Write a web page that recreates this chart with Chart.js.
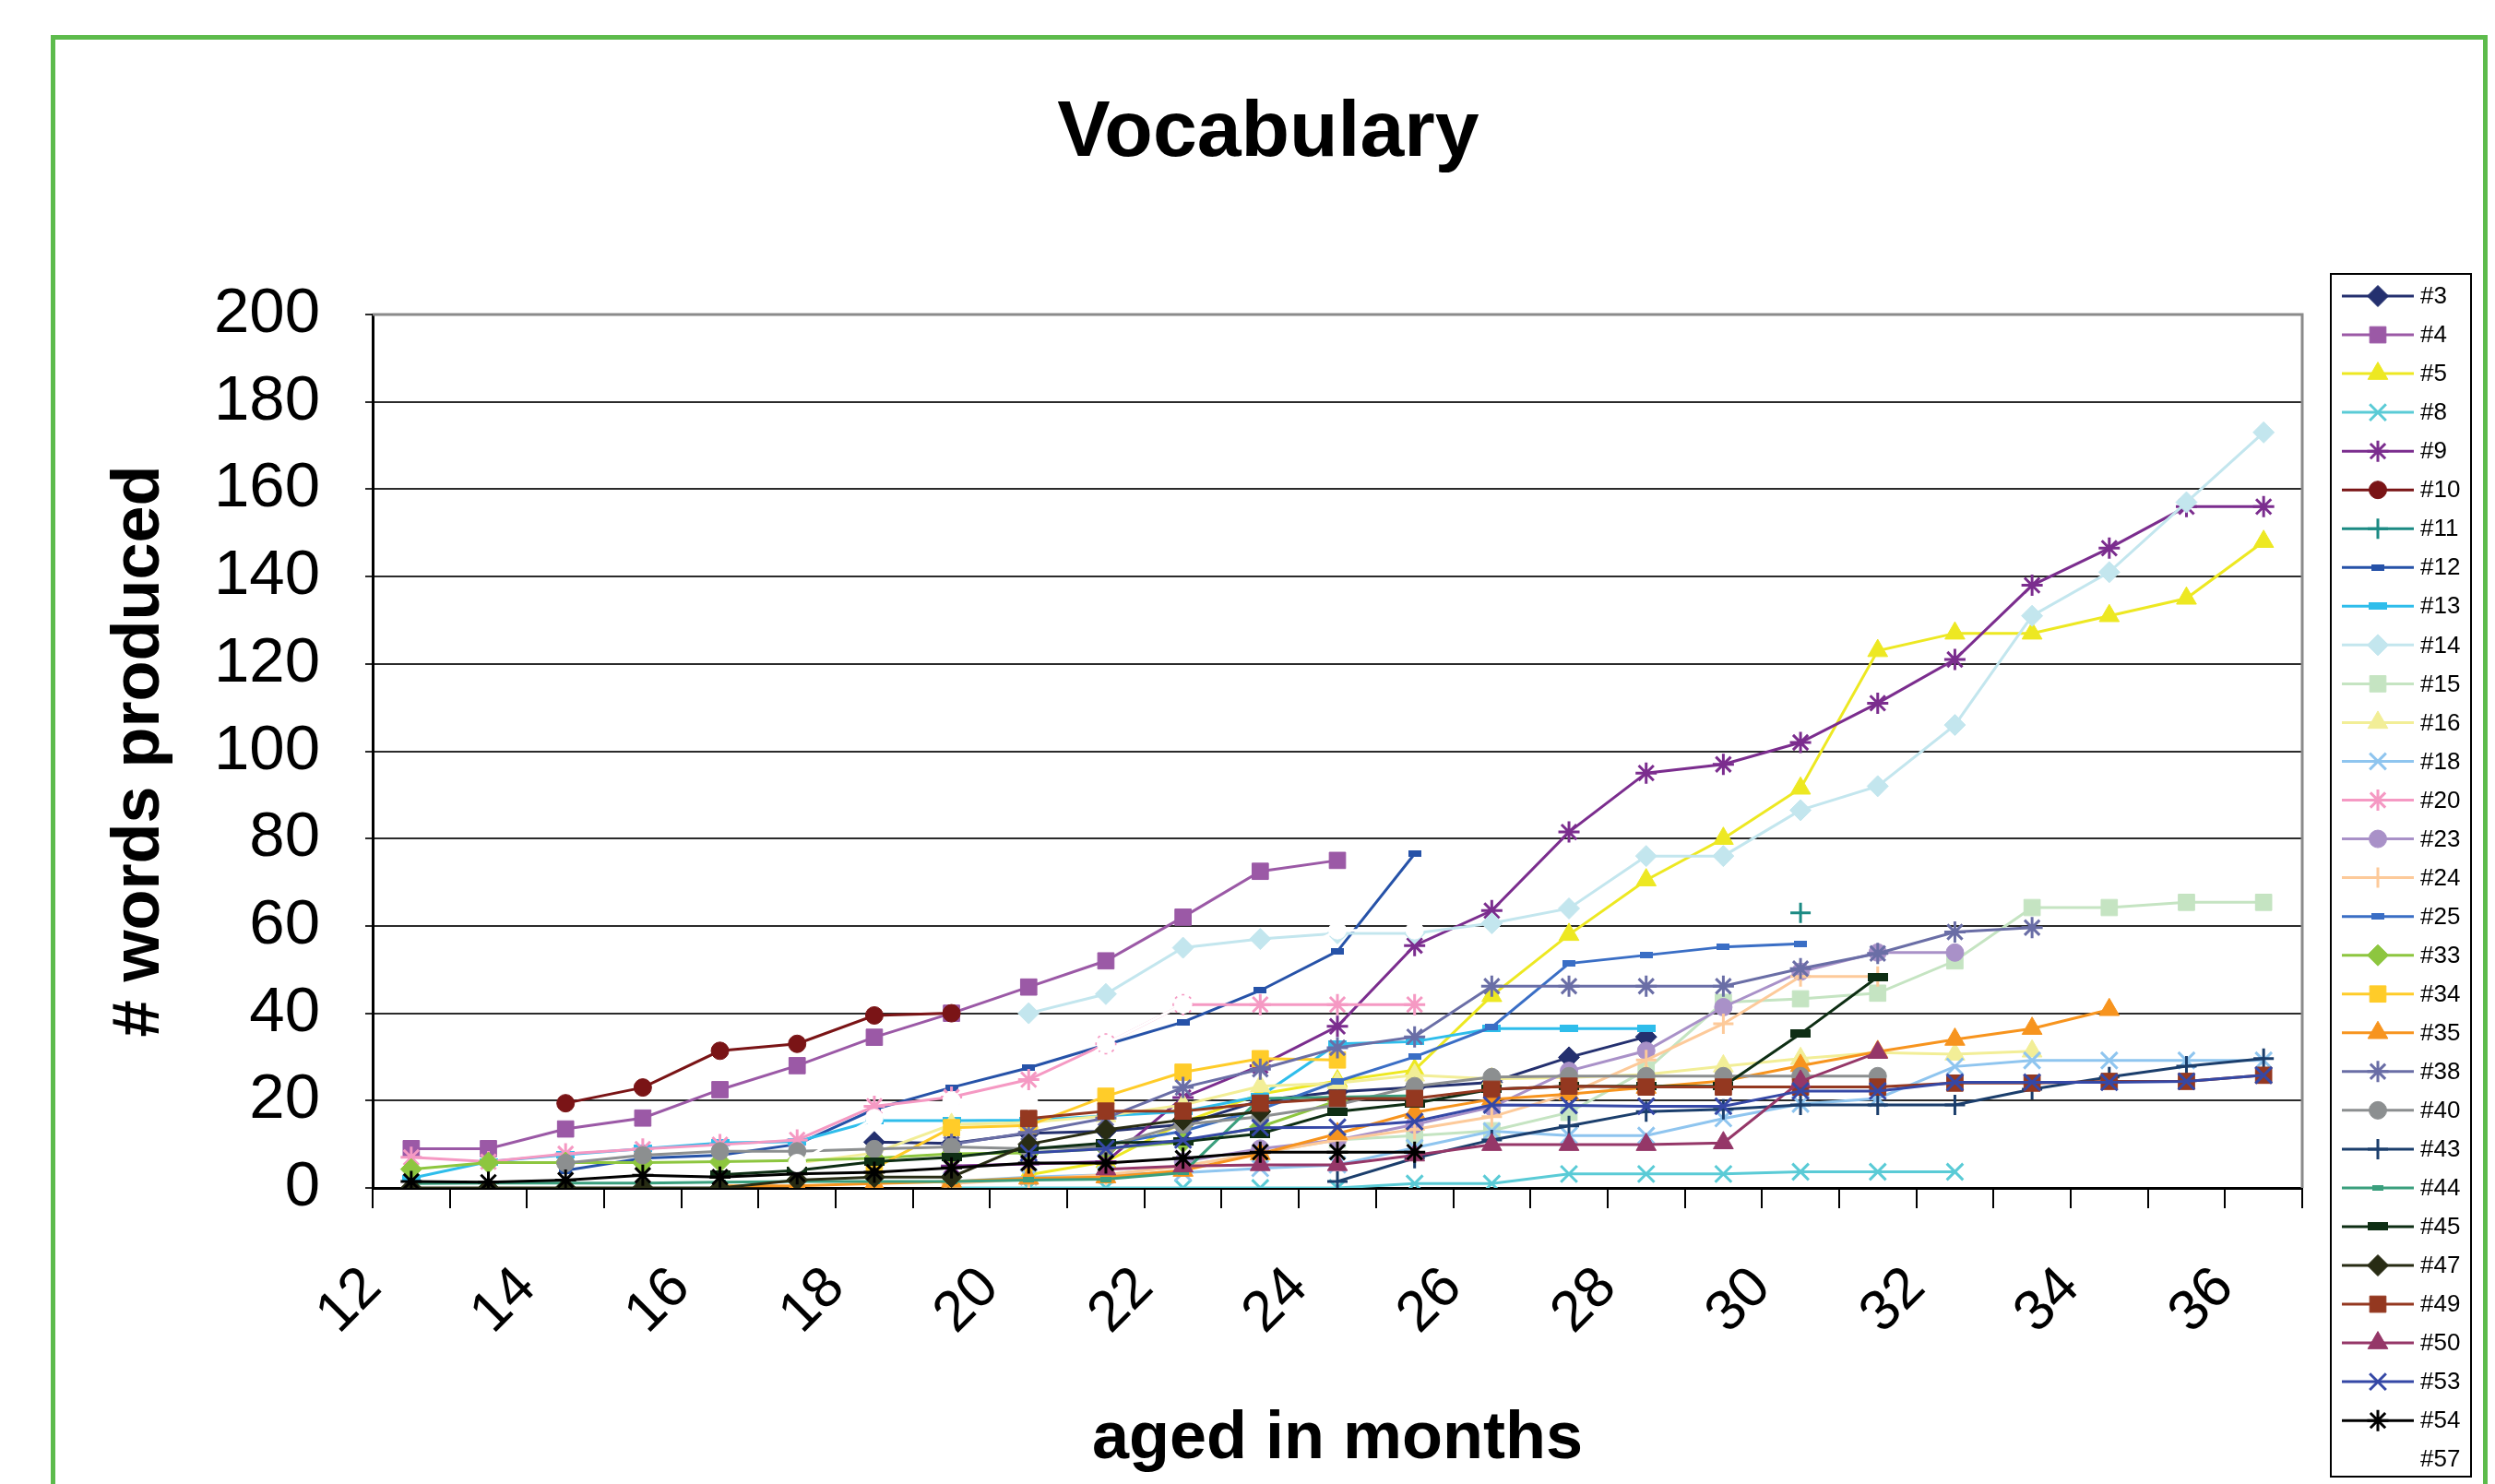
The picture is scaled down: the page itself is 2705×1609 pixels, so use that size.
<!DOCTYPE html>
<html>
<head>
<meta charset="utf-8">
<script src="https://cdn.jsdelivr.net/npm/chart.js@4.4.1/dist/chart.umd.min.js"></script>
<style>
html,body{margin:0;padding:0;background:#fff;}
#wrap{position:relative;width:2705px;height:1609px;overflow:hidden;}
canvas{display:block;}
#frame{position:absolute;left:55px;top:38px;width:2642px;height:1620px;border:5px solid #5DBB4C;box-sizing:border-box;pointer-events:none;}
</style>
</head>
<body>
<div id="wrap"><canvas id="c" width="2705" height="1609"></canvas><div id="frame"></div></div>
<script>
// ---------- DATA ----------
const chartTitle = 'Vocabulary';
const months = ['12','13','14','15','16','17','18','19','20','21','22','23','24','25','26','27','28','29','30','31','32','33','34','35','36'];
const seriesNames = ['#3','#4','#5','#8','#9','#10','#11','#12','#13','#14','#15','#16','#18','#20','#23','#24','#25','#33','#34','#35','#38','#40','#43','#44','#45','#47','#49','#50','#53','#54','#57'];
const _ = null;
const s3  = [_,_,_,_,_,_,10.5,10.2,12.5,13,14.5,20,22,23,24.2,29.9,34.6,_,_,_,_,_,_,_,_];
const s4  = [9,9,13.5,16,22.5,28,34.5,40,46,52,62,72.5,75,_,_,_,_,_,_,_,_,_,_,_,_];
const s5  = [_,_,_,_,_,_,_,_,3,6,15,21.5,24.5,27,44,58,70.5,80,91.5,123,127,127,131,135,148];
const s8  = [_,_,_,_,_,_,_,0,0,0,0,0,0,1,1,3.2,3.2,3.2,3.7,3.7,3.7,_,_,_,_];
const s9  = [_,_,_,_,_,_,_,5,5.5,6,20.7,28,37,55.5,63.5,81.5,95,97,102,111,121,138,146.5,156,156];
const s10 = [_,_,19.4,23,31.4,33,39.5,40,_,_,_,_,_,_,_,_,_,_,_,_,_,_,_,_,_];
const s11 = [_,_,_,_,_,_,_,_,_,_,_,_,_,_,_,_,_,_,63,_,_,_,_,_,_];
const s12 = [_,_,4,6.8,7.5,10,18,23,27.5,32.8,38,45.2,54.2,76.5,_,_,_,_,_,_,_,_,_,_,_];
const s13 = [2.2,6,7.6,9,10.3,10.6,15.4,15.4,15.5,16.5,17.5,21,33,33.5,36.5,36.5,36.5,_,_,_,_,_,_,_,_];
const s14 = [_,_,_,_,_,_,_,_,40,44.4,55,57,58.3,58.3,60.6,64,76,76,86.5,92,106,131,141,157,173];
const s15 = [_,_,_,_,_,_,_,_,_,3,5,8,11,12,13.1,17.3,27,42.5,43.3,44.6,52,64.2,64.2,65.4,65.4];
const s16 = [_,_,_,_,_,5.7,8,14.5,15,16.5,19,23.3,24,25.8,25,25.3,26,27.9,29.6,31,30.6,31.3,_,_,_];
const s18 = [_,_,_,_,_,_,_,1.5,2.5,3,3.5,4.5,5.3,9.2,13,12,12,15.9,19.2,20.5,27.8,29.2,29.2,29.2,29.2];
const s20 = [7,6,7.8,8.9,9.9,11,18.7,20.8,24.8,33,42,42,42,42,_,_,_,_,_,_,_,_,_,_,_];
const s23 = [_,_,_,_,_,_,_,_,_,_,6,9,11,14.5,18.5,26.8,31.4,41.4,49.5,53.9,53.9,_,_,_,_];
const s24 = [_,_,_,_,_,_,_,1,2,3,5,8,11,13.4,16.3,21.5,29.3,37.6,48.4,48.4,_,_,_,_,_];
const s25 = [_,_,_,_,_,_,_,_,_,10,13,18,24.4,30,36.8,51.4,53.3,55.2,55.9,_,_,_,_,_,_];
const s33 = [4.3,5.8,5.8,5.8,6,6.3,6.8,7.8,8,9,10.5,14,20,_,_,_,_,_,_,_,_,_,_,_,_];
const s34 = [_,_,_,_,_,_,4.5,13.8,14.3,21,26.5,29.6,29.3,_,_,_,_,_,_,_,_,_,_,_,_];
const s35 = [_,_,_,_,0.5,0.5,1,1.5,2.2,2.5,4,7.8,12.4,17.3,20.3,21.5,23,24.5,28,31.2,34,36.5,40.8,_,_];
const s38 = [_,_,_,_,_,_,_,10,12.7,16,23,27.2,32.1,34.6,46.2,46.2,46.2,46.2,50.2,53.7,58.6,59.6,_,_,_];
const s40 = [_,_,5.7,7.5,8.4,8.4,8.9,9.4,9,9.5,14.5,16.3,19,23.3,25.4,25.6,25.6,25.6,25.6,25.6,_,_,_,_,_];
const s43 = [_,_,_,_,_,_,_,_,_,_,_,_,1.5,6.8,11,14.2,17.5,18,19,19,19,22.6,25.4,27.9,29.6];
const s44 = [1,1.1,1.1,1.1,1.3,1.5,1.5,1.5,1.8,2,3.5,20.5,20.8,21.1,_,_,_,_,_,_,_,_,_,_,_];
const s45 = [_,_,_,_,3,4,6,7,8.9,10.3,10.6,12.4,17.5,19.4,22.6,23.3,23.3,23.3,35.3,48.3,_,_,_,_,_];
const s47 = [0,0,0,0,0,1.8,2.5,2.5,10,13.3,15.6,17.5,_,_,_,_,_,_,_,_,_,_,_,_,_];
const s49 = [_,_,_,_,_,_,_,_,15.9,17.6,17.6,19.4,20.5,20.5,22.6,23.3,23.1,23.1,23.1,23.1,24,24,24.4,24.4,25.8];
const s50 = [_,_,_,_,_,_,_,_,_,4.3,5,5.3,5.3,7.5,9.9,9.9,9.9,10.3,24.4,31,_,_,_,_,_];
const s53 = [_,_,_,_,_,_,_,_,8,9,11,13.8,13.9,15.2,19,18.9,18.7,18.7,22.2,22.2,24.2,24.2,24.2,24.4,25.8];
const s54 = [1.5,1.3,1.8,2.9,2.5,3.2,3.6,4.6,5.7,5.7,6.8,8.2,8.2,8.2,_,_,_,_,_,_,_,_,_,_,_];
const s57 = [_,_,_,_,_,5.7,16,20,20,33,42,50,59,59,_,_,_,_,_,_,_,_,_,_,_];
const seriesValues = [s3,s4,s5,s8,s9,s10,s11,s12,s13,s14,s15,s16,s18,s20,s23,s24,s25,s33,s34,s35,s38,s40,s43,s44,s45,s47,s49,s50,s53,s54,s57];
const yTicks = [0,20,40,60,80,100,120,140,160,180,200];

// ---------- STYLES ----------
const seriesColors = ['#24306F','#9B59A6','#EDE822','#5ACBD6','#7B2D8E','#7A1416','#1B8A83','#2652A8','#2EBDEB','#C3E6EE','#C5E4C2','#F2EE97','#8FC5EF','#F599C3','#A991C8','#FDCA9A','#3A6EC5','#8DC63F','#FFCC29','#F7941E','#6A6EA6','#8C8F90','#1B3E6C','#3A9F7D','#0E2E14','#282C14','#943820','#953768','#3548A6','#000000','#FFFFFF'];
const seriesMarkers = ['rectRot','rect','triangle','crossRot','star','circle','cross','dash','dashL','rectRot','rect','triangle','crossRot','star','circle','cross','dash','rectRot','rect','triangle','star','circle','cross','dashS','dashXL','rectRot','rect','triangle','crossRot','star','circle'];
const FONT = "'Liberation Sans', Arial, sans-serif";

function dashImg(color, w, h){
  const c = document.createElement('canvas'); c.width = w; c.height = h;
  const g = c.getContext('2d'); g.fillStyle = color; g.fillRect(0,0,w,h); return c;
}
function markerOpts(kind, color){
  switch(kind){
    case 'circle':   return {pointStyle:'circle', radius:9.5, bw:1};
    case 'rect':     return {pointStyle:'rect', radius:12.5, bw:1};
    case 'rectRot':  return {pointStyle:'rectRot', radius:11.5, bw:1};
    case 'triangle': return {pointStyle:'triangle', radius:12.5, bw:1};
    case 'crossRot': return {pointStyle:'crossRot', radius:12.5, bw:3};
    case 'cross':    return {pointStyle:'cross', radius:11, bw:3};
    case 'star':     return {pointStyle:'star', radius:11.5, bw:3};
    case 'dash':     return {pointStyle:dashImg(color,14,7), radius:7, bw:0};
    case 'dashL':    return {pointStyle:dashImg(color,20,8), radius:10, bw:0};
    case 'dashS':    return {pointStyle:dashImg(color,12,6), radius:6, bw:0};
    case 'dashXL':   return {pointStyle:dashImg(color,22,9), radius:11, bw:0};
  }
}

const datasets = seriesNames.map((name, i) => {
  const col = seriesColors[i];
  const m = markerOpts(seriesMarkers[i], col);
  return {
    label: name,
    data: seriesValues[i],
    borderColor: col,
    backgroundColor: col,
    borderWidth: 3,
    pointStyle: m.pointStyle,
    pointRadius: m.radius,
    pointHoverRadius: m.radius,
    pointBorderWidth: m.bw,
    pointBackgroundColor: col,
    pointBorderColor: col,
    tension: 0,
    spanGaps: false,
    order: 100 - i
  };
});

// plot frame (top/right border) + chart title
const frameP = {
  id: 'frameP',
  beforeDatasetsDraw(chart){
    const {ctx, chartArea:a} = chart;
    ctx.save();
    ctx.strokeStyle = '#8a8a8a'; ctx.lineWidth = 3;
    ctx.beginPath();
    ctx.moveTo(a.left, a.top); ctx.lineTo(a.right, a.top); ctx.lineTo(a.right, a.bottom);
    ctx.stroke();
    ctx.restore();
  },
  afterDraw(chart){
    const ctx = chart.ctx;
    ctx.save();
    ctx.fillStyle = '#000'; ctx.font = 'bold 86px ' + FONT;
    ctx.textAlign = 'center'; ctx.textBaseline = 'middle';
    ctx.fillText(chartTitle, 1375, 145);
    ctx.restore();
  }
};

// Excel-like legend with line + marker
const legendP = {
  id: 'legendP',
  afterDraw(chart){
    const ctx = chart.ctx;
    const L = 2527, T = 297, R = 2679, B = 1601;
    ctx.save();
    ctx.fillStyle = '#fff'; ctx.fillRect(L, T, R-L, B-T);
    ctx.strokeStyle = '#000'; ctx.lineWidth = 2; ctx.strokeRect(L, T, R-L, B-T);
    chart.data.datasets.forEach((ds, i) => {
      const y = 321 + i * 42.04;
      ctx.strokeStyle = ds.borderColor; ctx.lineWidth = 3;
      ctx.beginPath(); ctx.moveTo(2539, y); ctx.lineTo(2617, y); ctx.stroke();
      ctx.fillStyle = ds.pointBackgroundColor; ctx.strokeStyle = ds.pointBorderColor;
      ctx.lineWidth = ds.pointBorderWidth;
      Chart.helpers.drawPoint(ctx, {pointStyle: ds.pointStyle, rotation: 0, radius: ds.pointRadius, borderWidth: ds.pointBorderWidth}, 2578, y);
      ctx.fillStyle = '#000'; ctx.font = '26px ' + FONT; ctx.textAlign = 'left'; ctx.textBaseline = 'middle';
      ctx.fillText(ds.label, 2624, y + 1);
    });
    ctx.restore();
  }
};

new Chart(document.getElementById('c'), {
  type: 'line',
  data: { labels: months, datasets },
  plugins: [frameP, legendP],
  options: {
    responsive: false,
    animation: false,
    devicePixelRatio: 1,
    layout: { padding: { left: 60, right: 209, top: 341, bottom: 0 } },
    plugins: {
      legend: { display: false },
      tooltip: { enabled: false },
      title: { display: false }
    },
    scales: {
      x: {
        type: 'category',
        offset: true,
        grid: { offset: true, drawOnChartArea: false, drawTicks: true, tickLength: 22, color: '#000', lineWidth: 2 },
        border: { display: true, color: '#000', width: 3 },
        ticks: {
          autoSkip: false, maxRotation: 45, minRotation: 45, padding: 50, labelOffset: -42,
          color: '#000', font: { family: FONT, size: 62 },
          callback: function(v, i){ const m = months[i]; return (parseInt(m,10) % 2 === 0) ? m : ''; }
        },
        title: { display: true, text: 'aged in months', color: '#000',
          font: { family: FONT, size: 72, weight: 'bold', lineHeight: 1.2 }, padding: { top: 0, bottom: 5 } },
        afterFit(scale){ scale.height = 1609 - 1288; }
      },
      y: {
        min: 0, max: 200,
        afterBuildTicks(scale){ scale.ticks = yTicks.map(v => ({value: v})); },
        grid: { color: '#2b2b2b', lineWidth: 2, drawTicks: true, tickLength: 8 },
        border: { display: true, color: '#000', width: 3 },
        ticks: { color: '#000', padding: 49, font: { family: FONT, size: 69 } },
        title: { display: true, text: '# words produced', color: '#000',
          font: { family: FONT, size: 72, weight: 'bold', lineHeight: 1.2 }, padding: { top: 49, bottom: 0 } },
        afterFit(scale){ scale.width = 404 - 60; }
      }
    }
  }
});
</script>
</body>
</html>
